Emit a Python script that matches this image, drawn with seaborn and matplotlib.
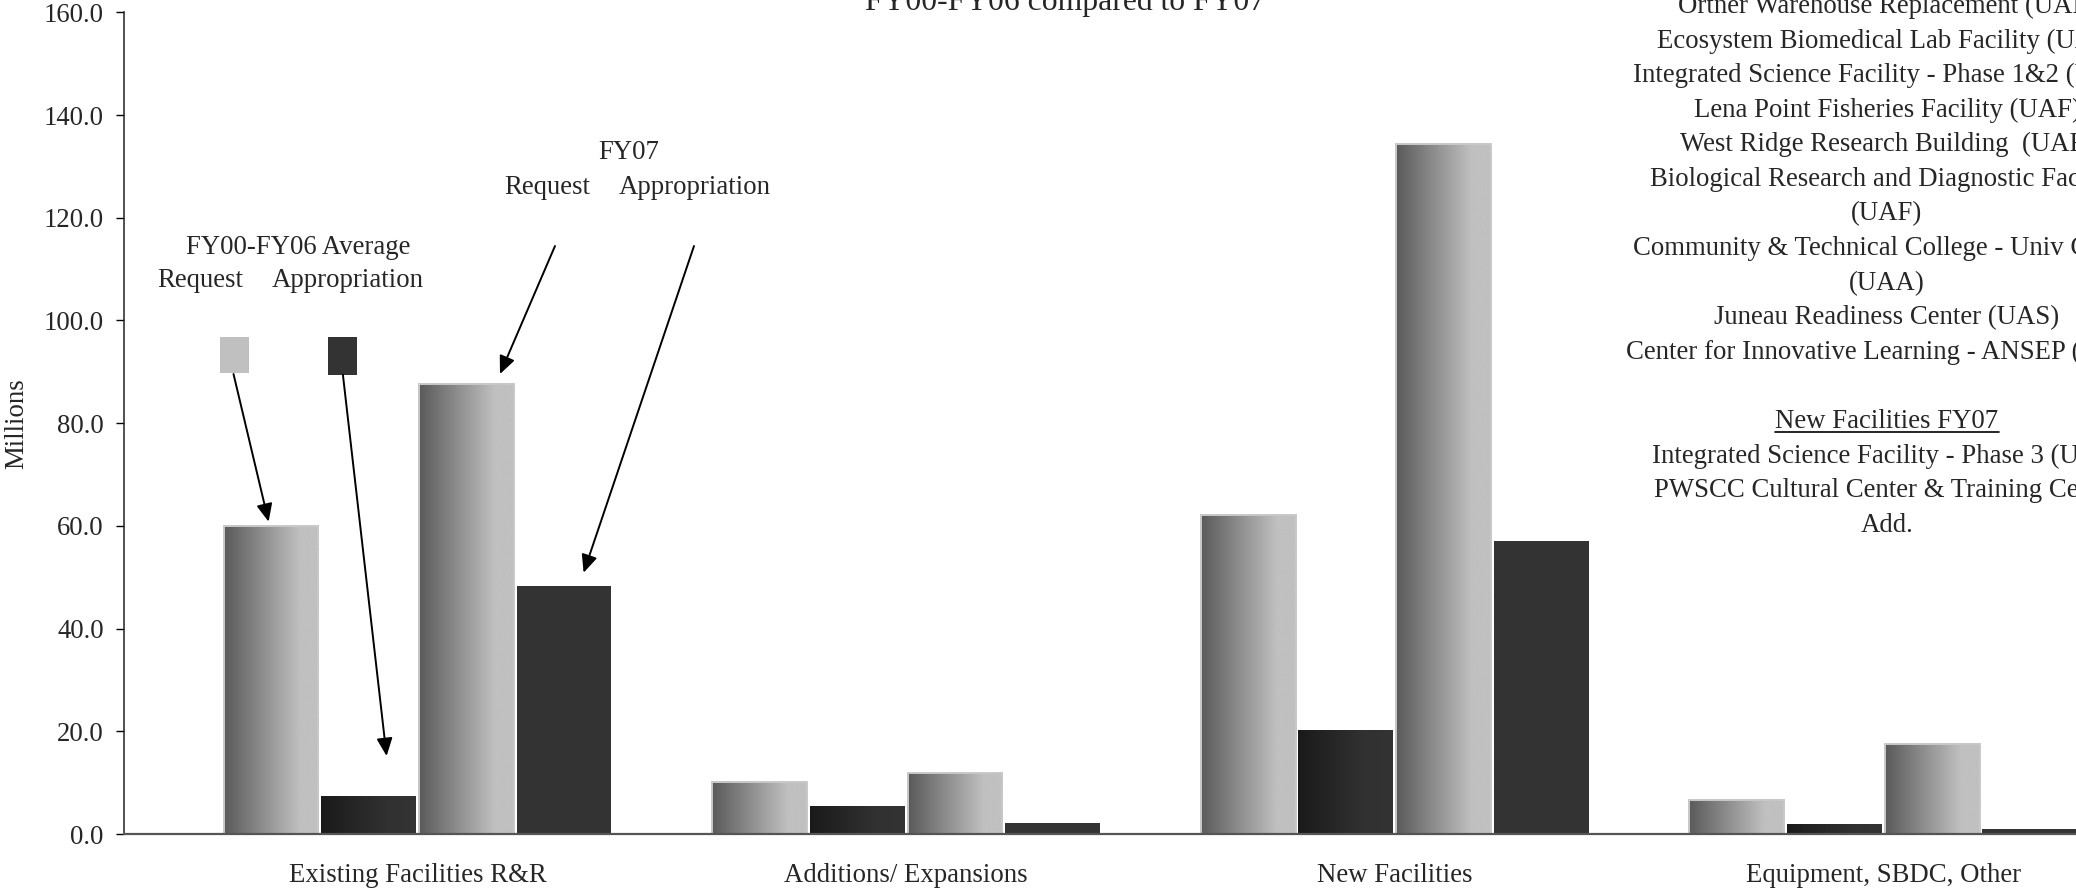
import numpy as np
import pandas as pd
import matplotlib
matplotlib.use("Agg")
import matplotlib.pyplot as plt
import seaborn as sns
from matplotlib.colors import LinearSegmentedColormap
from matplotlib.patches import Rectangle, FancyArrowPatch
from matplotlib.lines import Line2D

# ---------------- data ----------------
categories = ["Existing Facilities R&R", "Additions/ Expansions",
              "New Facilities", "Equipment, SBDC, Other"]
series = ["FY00-FY06 Average Request", "FY00-FY06 Average Appropriation",
          "FY07 Request", "FY07 Appropriation"]
avg_request = [60.0, 10.2, 62.1, 6.7]
avg_appropriation = [7.4, 5.4, 20.2, 1.9]
fy07_request = [87.6, 11.8, 134.4, 17.5]
fy07_appropriation = [48.3, 2.2, 57.1, 1.0]
y_ticks = [0, 20, 40, 60, 80, 100, 120, 140, 160]

title = "FY00-FY06 compared to FY07"
project_lines = [
    "Ortner Warehouse Replacement (UAF)",
    "Ecosystem Biomedical Lab Facility (UAF)",
    "Integrated Science Facility - Phase 1&2 (UAA)",
    "Lena Point Fisheries Facility (UAF)",
    "West Ridge Research Building  (UAF)",
    "Biological Research and Diagnostic Facility",
    "(UAF)",
    "Community & Technical College - Univ Center",
    "(UAA)",
    "Juneau Readiness Center (UAS)",
    "Center for Innovative Learning - ANSEP (UAA)",
    "",
    "New Facilities FY07",
    "Integrated Science Facility - Phase 3 (UAF)",
    "PWSCC Cultural Center & Training Center",
    "Add.",
]

df = pd.DataFrame({
    "category": categories * 4,
    "series": np.repeat(series, len(categories)),
    "value": avg_request + avg_appropriation + fy07_request + fy07_appropriation,
})

# ---------------- figure ----------------
sns.set_style("white")
plt.rcParams["font.family"] = ["Liberation Serif", "DejaVu Serif"]
FS = 19.3

W, H = 2076, 894
fig = plt.figure(figsize=(W / 100, H / 100), dpi=100)
fig.patch.set_facecolor("white")

def fx(x):
    return x / W

def fy(y):
    return 1 - y / H

ax_left, ax_bottom, ax_top = 124, 834, 12.3
ax = fig.add_axes([fx(ax_left), fy(ax_bottom), 1 - fx(ax_left), (ax_bottom - ax_top) / H])

palette = ["#8c8c8c", "#262626", "#8d8d8d", "#333333"]
sns.barplot(data=df, x="category", y="value", hue="series", order=categories,
            hue_order=series, palette=palette, width=0.8, gap=0.03,
            saturation=1, legend=False, ax=ax, edgecolor="none", linewidth=0)

cmap_light = LinearSegmentedColormap.from_list(
    "g1", [(0, "#5a5a5a"), (0.8, "#c0c0c0"), (1, "#c0c0c0")])
cmap_dark = LinearSegmentedColormap.from_list(
    "g2", [(0, "#1a1a1a"), (0.7, "#313131"), (1, "#333333")])

def grad_fill(patch, cmap):
    x0, y0 = patch.get_x(), patch.get_y()
    w, h = patch.get_width(), patch.get_height()
    grad = np.linspace(0, 1, 256).reshape(1, -1)
    im = ax.imshow(grad, cmap=cmap, aspect="auto", origin="lower",
                   extent=[x0, x0 + w, y0, y0 + h], interpolation="bilinear",
                   zorder=patch.get_zorder() - 0.01)
    im.set_clip_path(patch)
    patch.set_facecolor("none")

for i, cont in enumerate(ax.containers):
    for patch in cont:
        if i in (0, 2):
            grad_fill(patch, cmap_light)
            patch.set_edgecolor("#c8c8c8")
            patch.set_linewidth(1.4)
        elif i == 1:
            grad_fill(patch, cmap_dark)
        else:
            patch.set_facecolor("#333333")

ax.set_xlim((ax_left - 417.5) / 488.6, (W - 417.5) / 488.6)
ax.set_ylim(0, 160)
ax.set_yticks(y_ticks)
ax.set_yticklabels([f"{v:.1f}" for v in y_ticks])
ax.set_xlabel("")
ax.set_ylabel("")
ax.tick_params(axis="y", direction="out", length=5.8, width=1.0, pad=8.7,
               labelsize=FS, color="black", left=True)
ax.tick_params(axis="x", length=0, pad=21, labelsize=FS)
for s in ("top", "right"):
    ax.spines[s].set_visible(False)
ax.spines["left"].set_color("#222222")
ax.spines["left"].set_linewidth(1.1)
ax.spines["bottom"].set_color("#555555")
ax.spines["bottom"].set_linewidth(1.6)
ax.set_facecolor("white")

# y label
fig.text(fx(17), fy(423.5), "Millions", rotation=90, ha="center", va="center", fontsize=FS)

# title (partly outside the canvas as in the reference)
fig.text(fx(1065), fy(10), title, ha="center", va="baseline", fontsize=22.8)

# project list on the right
under_txt = None
for k, line in enumerate(project_lines):
    if not line:
        continue
    t = fig.text(fx(1887), fy(13 + 34.6 * k), line, ha="center", va="baseline", fontsize=FS)
    if line == "New Facilities FY07":
        under_txt = (t, 13 + 34.6 * k)

# legend-like annotations
fig.text(fx(298.5), fy(254), "FY00-FY06 Average", ha="center", va="baseline", fontsize=FS)
fig.text(fx(157), fy(287), "Request", ha="left", va="baseline", fontsize=FS)
fig.text(fx(272), fy(287), "Appropriation", ha="left", va="baseline", fontsize=FS)
fig.text(fx(629), fy(159), "FY07", ha="center", va="baseline", fontsize=FS)
fig.text(fx(504.5), fy(194), "Request", ha="left", va="baseline", fontsize=FS)
fig.text(fx(618.3), fy(194), "Appropriation", ha="left", va="baseline", fontsize=FS)

fig.add_artist(Rectangle((fx(220), fy(372.7)), (248.7 - 220) / W, (372.7 - 337.3) / H,
                         transform=fig.transFigure, facecolor="#c0c0c0", edgecolor="none"))
fig.add_artist(Rectangle((fx(328), fy(374.7)), 29 / W, (374.7 - 337.3) / H,
                         transform=fig.transFigure, facecolor="#333333", edgecolor="none"))

arrows = [((233.5, 374), (268.6, 521.7)),
          ((342.9, 374.7), (386.6, 756)),
          ((555, 246), (500, 374)),
          ((694, 246), (583.6, 572.7))]
for (x1, y1), (x2, y2) in arrows:
    fig.add_artist(FancyArrowPatch((fx(x1), fy(y1)), (fx(x2), fy(y2)),
                                   transform=fig.transFigure,
                                   arrowstyle="-|>,head_length=0.9,head_width=0.4",
                                   mutation_scale=12, color="black", lw=1.4,
                                   shrinkA=0, shrinkB=0))

# underline for the heading
fig.canvas.draw()
if under_txt is not None:
    t, base = under_txt
    bb = t.get_window_extent(fig.canvas.get_renderer())
    fig.add_artist(Line2D([bb.x0 / W, bb.x1 / W], [fy(base + 4), fy(base + 4)],
                          transform=fig.transFigure, color="black", lw=1.2))

fig.savefig("out.png", dpi=100, facecolor="white")
